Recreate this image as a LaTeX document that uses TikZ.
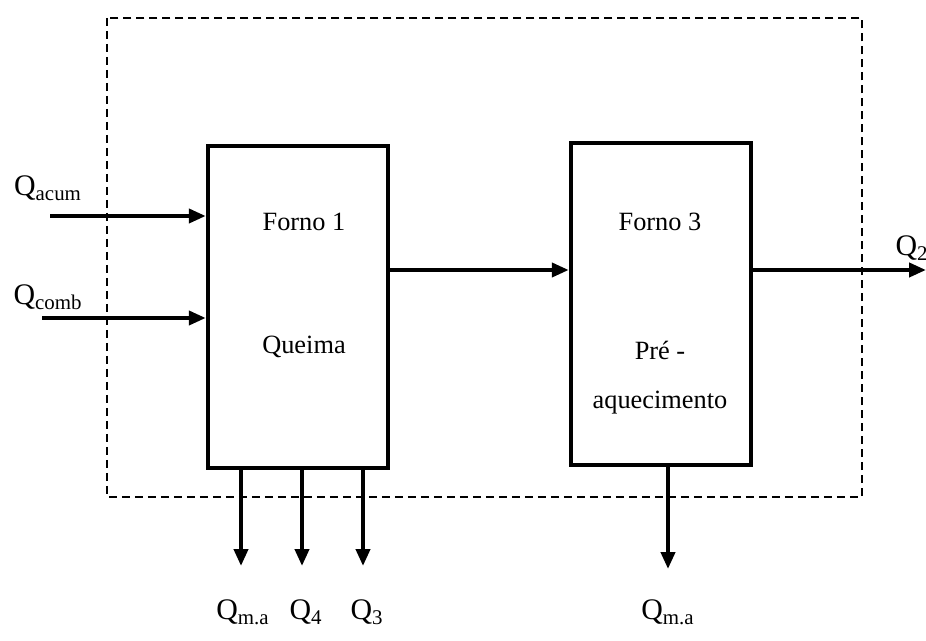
\documentclass[tikz,border=0pt]{standalone}
\usepackage{fontspec}
\setmainfont{Liberation Serif}
\usetikzlibrary{arrows.meta}

\tikzset{
  forno/.style={draw, line width=0.09cm, minimum width=3.6cm, minimum height=6.45cm, inner sep=0pt},
  fluxo/.style={line width=0.08cm, -{Triangle[length=0.34cm, width=0.28cm]}},
  fronteira/.style={line width=0.03cm, dash pattern=on 0.16cm off 0.1cm},
  rotulo/.style={font=\fontsize{15}{18}\selectfont, inner sep=0pt},
  fluxorot/.style={font=\fontsize{17}{18}\selectfont, inner sep=0pt}
}

\begin{document}
\begin{tikzpicture}[x=0.02cm, y=-0.02cm]
\useasboundingbox (0,0) rectangle (926,641);
% volume de controle
\draw[fronteira] (107,18) rectangle (862,497);
% fornos
\node[forno] (forno1) at (298,307) {};
\node[forno] (forno3) at (661,304) {};
\node[rotulo] (nome1) at (304,222) {Forno 1};
\node[rotulo] (proc1) at (304,347) {Queima};
\node[rotulo] (nome3) at (660,222) {Forno 3};
\node[rotulo] (proc3a) at (660,350) {Pré -};
\node[rotulo] (proc3b) at (660,403) {aquecimento};
% entradas
\coordinate (acum) at (50,216);
\coordinate (comb) at (42,318);
\draw[fluxo] (acum) -- (acum -| forno1.west);
\draw[fluxo] (comb) -- (comb -| forno1.west);
\node[fluxorot] (qacum) at (48,188) {Q\textsubscript{acum}};
\node[fluxorot] (qcomb) at (48,297) {Q\textsubscript{comb}};
% ligacao entre fornos
\coordinate (meio) at (480,270);
\draw[fluxo] (meio -| forno1.east) -- (meio -| forno3.west);
% saida Q2
\coordinate (saida2) at (926,270);
\draw[fluxo] (saida2 -| forno3.east) -- (saida2);
\node[fluxorot] (q2) at (912,248) {Q\textsubscript{2}};
% perdas
\coordinate (perda1) at (241,566);
\coordinate (perda2) at (302,566);
\coordinate (perda3) at (363,566);
\coordinate (perda4) at (668,569);
\draw[fluxo] (forno1.south -| perda1) -- (perda1);
\draw[fluxo] (forno1.south -| perda2) -- (perda2);
\draw[fluxo] (forno1.south -| perda3) -- (perda3);
\draw[fluxo] (forno3.south -| perda4) -- (perda4);
\node[fluxorot] (qma1) at (243,612) {Q\textsubscript{m.a}};
\node[fluxorot] (q4) at (306,612) {Q\textsubscript{4}};
\node[fluxorot] (q3) at (367,612) {Q\textsubscript{3}};
\node[fluxorot] (qma2) at (668,612) {Q\textsubscript{m.a}};
\end{tikzpicture}
\end{document}
